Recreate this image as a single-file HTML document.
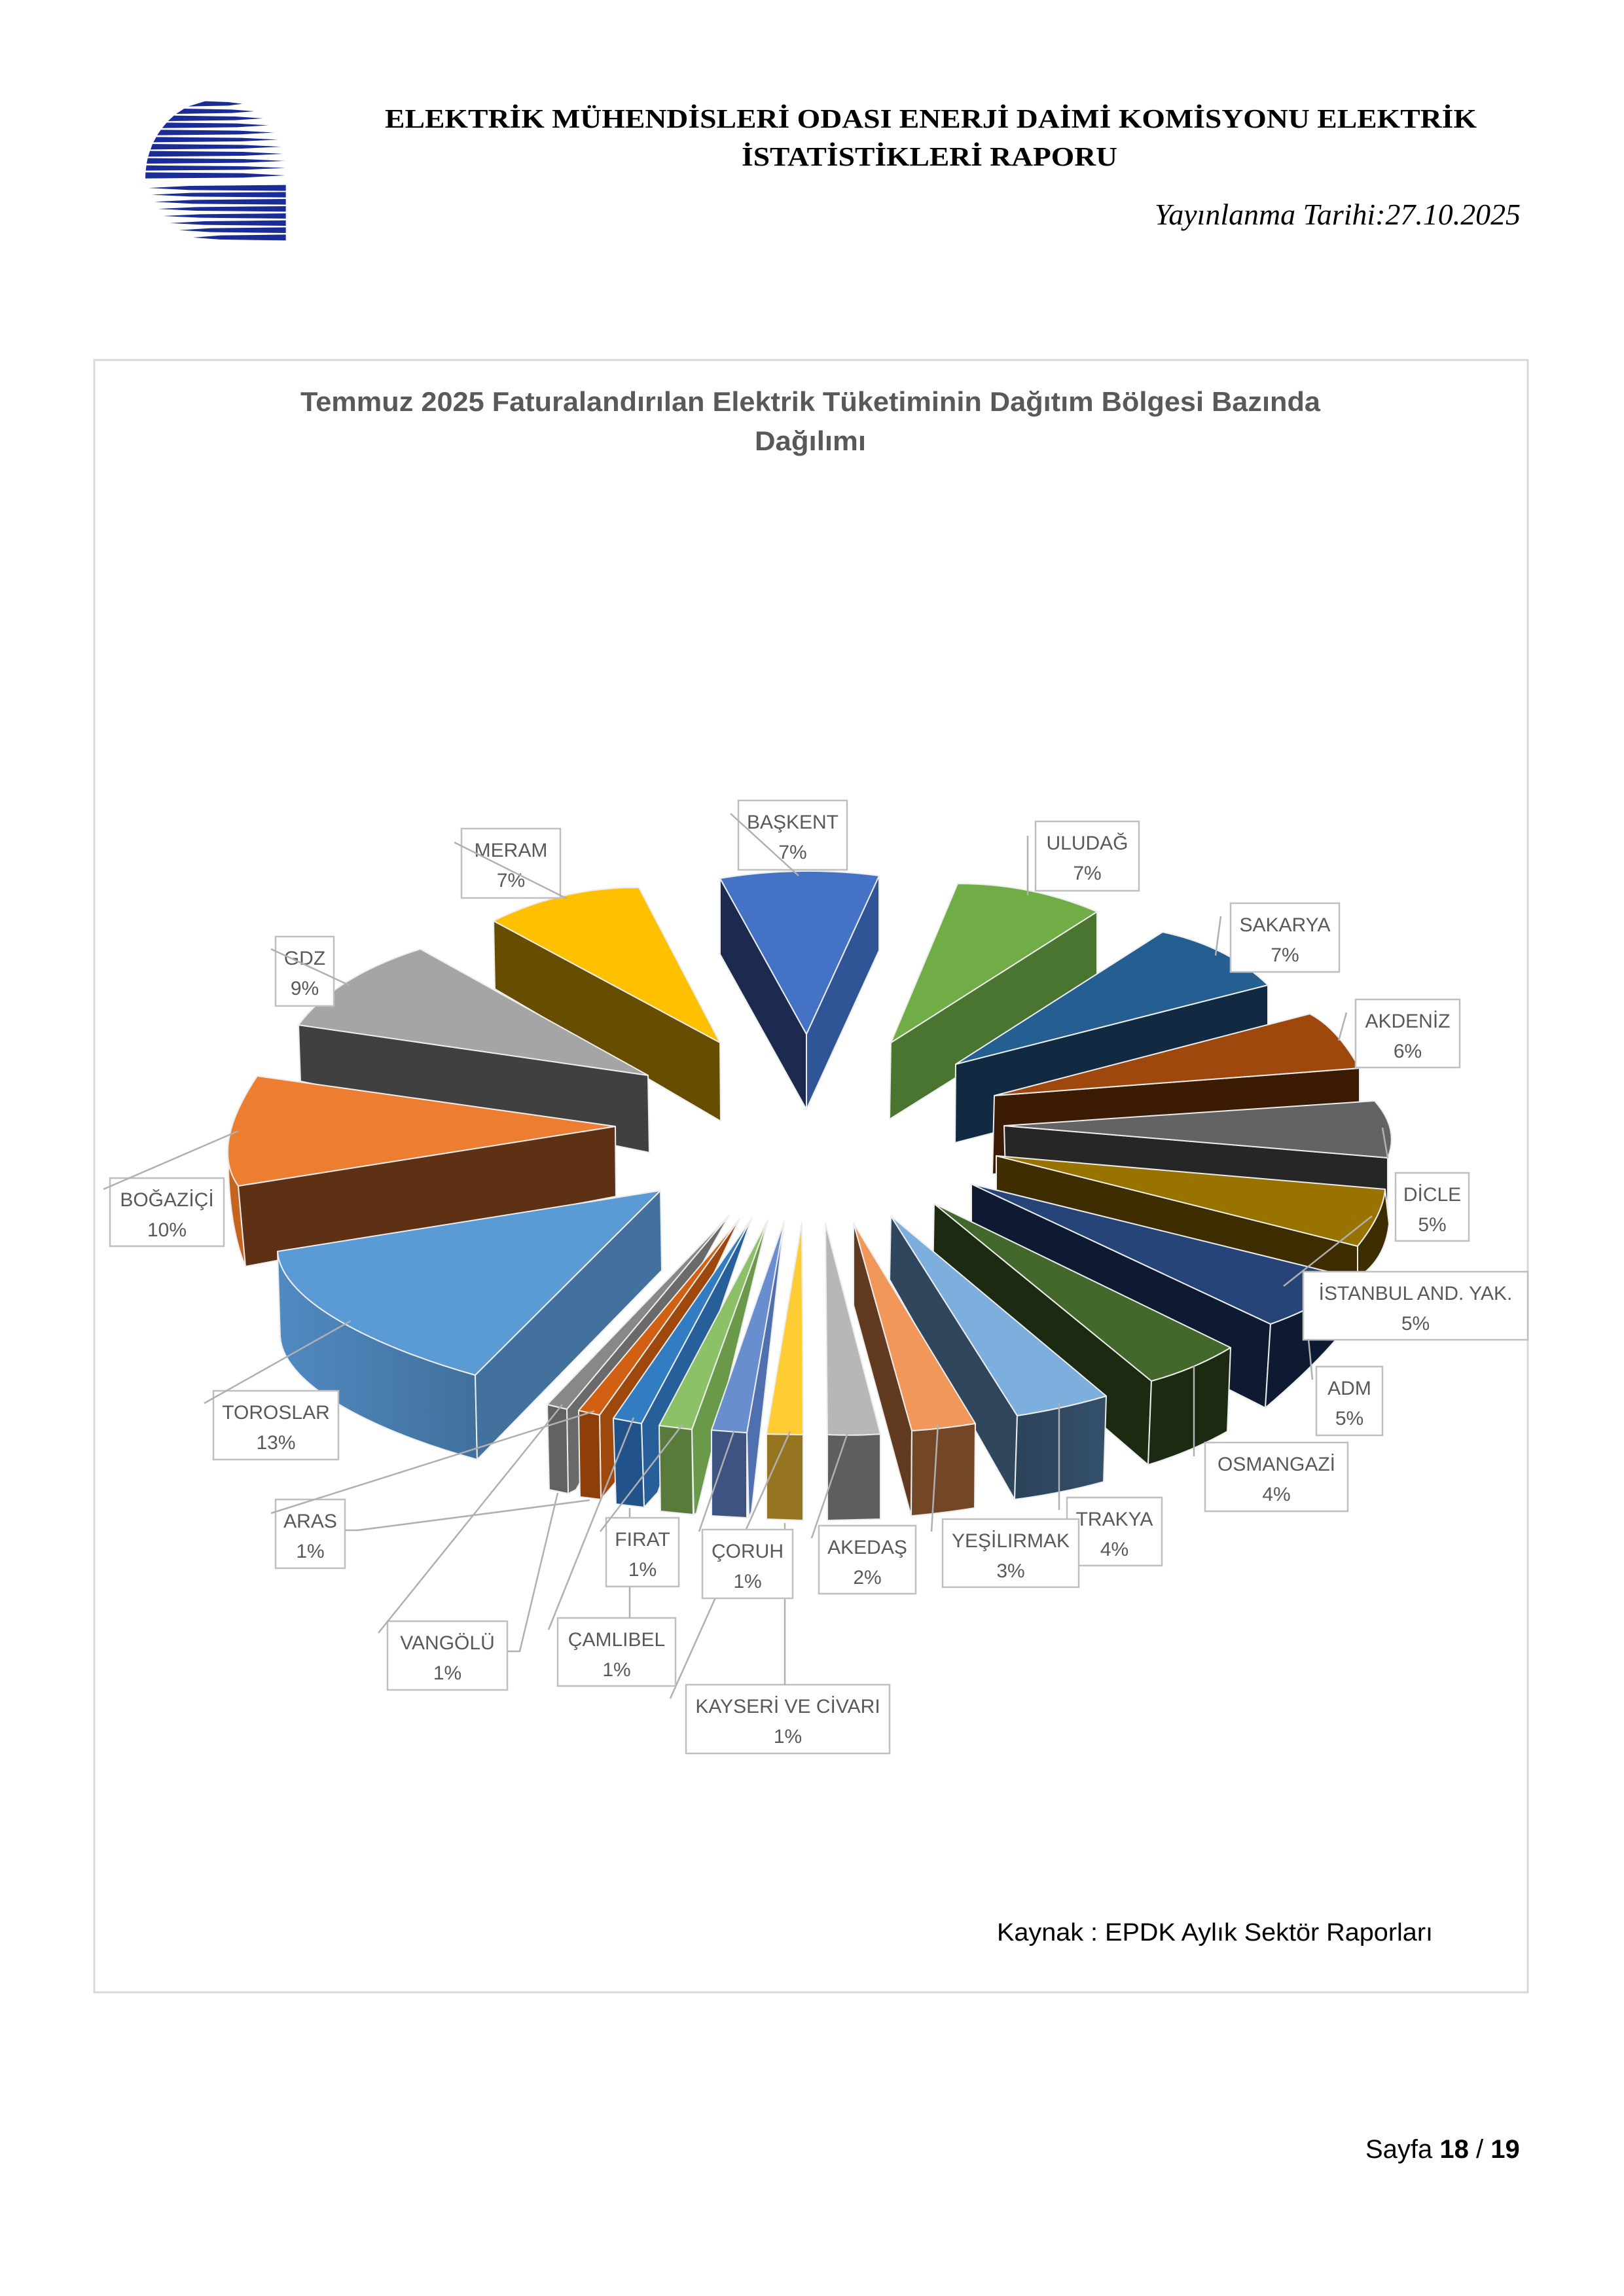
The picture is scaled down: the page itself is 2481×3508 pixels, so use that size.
<!DOCTYPE html>
<html><head><meta charset="utf-8"><title>Temmuz 2025 Dağıtım Bölgesi Bazında Dağılım</title>
<style>html,body{margin:0;padding:0;background:#fff}svg{display:block}</style></head>
<body>
<svg width="2481" height="3508" viewBox="0 0 2481 3508" xmlns="http://www.w3.org/2000/svg">
<defs>
<linearGradient id="torg" x1="0" y1="0" x2="1" y2="0">
<stop offset="0" stop-color="#508AC2"/><stop offset="1" stop-color="#41709C"/>
</linearGradient>
<linearGradient id="trg" x1="0" y1="0" x2="1" y2="0">
<stop offset="0" stop-color="#2C435A"/><stop offset="1" stop-color="#34506B"/>
</linearGradient>
</defs>
<rect width="2481" height="3508" fill="#fff"/>

<!-- Logo -->
<g transform="translate(170,130) scale(0.33333)" fill="#1B2C97">
<polygon points="430,74 537,78 600,86 537,94 353,98"/>
<polygon points="334,108 553,112 655,120 553,128 297,132"/>
<polygon points="287,140 568,144 695,152.5 568,161 260,165"/>
<polygon points="254,172 577,176 720,184.5 577,193 233,197"/>
<polygon points="227,205 587,209 745,217.5 587,226 210,230"/>
<polygon points="206,238 595,242 765,250 595,258 193,262"/>
<polygon points="189,270 600,274 778,282.5 600,291 180,295"/>
<polygon points="177,302 603,306 788,315 603,324 169,328"/>
<polygon points="167,335 606,339 795,347.5 606,356 162,360"/>
<polygon points="161,368 606,372 798,380 606,388 158,392"/>
<polygon points="157,400 604,404 796,414 604,424 156,428"/>
<polygon points="800,458 800,485 359,481 170,471.5 359,462"/>
<polygon points="800,490 800,515 367,511 182,502.5 367,494"/>
<polygon points="800,522 800,548 377,544 196,535 377,526"/>
<polygon points="800,555 800,580 390,576 214,567.5 390,559"/>
<polygon points="800,588 800,612 406,608 237,600 406,592"/>
<polygon points="800,620 800,645 428,641 268,632.5 428,624"/>
<polygon points="800,652 800,678 457,674 310,665 457,656"/>
<polygon points="800,685 800,712 502,708 375,698.5 502,689"/>
</g>

<!-- Header -->
<g font-family="'Liberation Serif', 'Noto Serif CJK SC', serif" fill="#000">
<text x="588" y="195" font-size="41" font-weight="bold" textLength="1668" lengthAdjust="spacingAndGlyphs">ELEKTRİK MÜHENDİSLERİ ODASI ENERJİ DAİMİ KOMİSYONU ELEKTRİK</text>
<text x="1133" y="253" font-size="41" font-weight="bold" textLength="574" lengthAdjust="spacingAndGlyphs">İSTATİSTİKLERİ RAPORU</text>
<text x="1764" y="343" font-size="46" font-style="italic" textLength="559" lengthAdjust="spacingAndGlyphs">Yayınlanma Tarihi:27.10.2025</text>
</g>

<!-- Chart frame -->
<rect x="144" y="550" width="2190" height="2494" fill="#fff" stroke="#D9D9D9" stroke-width="3"/>

<!-- Chart title -->
<g font-family="'Liberation Sans', sans-serif" font-weight="bold" font-size="42" fill="#595959">
<text x="459" y="628" textLength="1558" lengthAdjust="spacingAndGlyphs">Temmuz 2025 Faturalandırılan Elektrik Tüketiminin Dağıtım Bölgesi Bazında</text>
<text x="1153" y="688" textLength="170" lengthAdjust="spacingAndGlyphs">Dağılımı</text>
</g>

<!-- Slices -->
<g stroke="#EDEDED" stroke-width="2" stroke-linejoin="round">
<!-- BAŞKENT -->
<path d="M1100,1342 L1232,1580 L1232,1695 L1100,1458 Z" fill="#1B2A4E"/>
<path d="M1343,1338 L1343,1452 L1232,1695 L1232,1580 Z" fill="#2F5597"/>
<path d="M1100,1342 Q1221,1322 1343,1338 L1232,1580 Z" fill="#4472C4"/>
<!-- MERAM -->
<path d="M754,1407 L1100,1593 L1101,1713 L756,1511 Z" fill="#664D00"/>
<path d="M754,1407 Q859,1355 976,1356 L1100,1593 Z" fill="#FFC000"/>
<!-- ULUDAĞ -->
<path d="M1361,1593 L1676,1393 L1676,1511 L1359,1710 Z" fill="#4A7530"/>
<path d="M1361,1593 L1463,1350 Q1575,1350 1676,1393 Z" fill="#70AD47"/>
<!-- GDZ -->
<path d="M456,1566 L990,1643 L992,1761 L459,1652 Z" fill="#404040"/>
<path d="M456,1566 Q511,1492 642,1450 L990,1643 Z" fill="#A5A5A5"/>
<!-- SAKARYA -->
<path d="M1460,1626 L1937,1505 L1937,1623 L1459,1746 Z" fill="#112A42"/>
<path d="M1460,1626 L1776,1424 Q1875,1445 1937,1505 Z" fill="#255E91"/>
<!-- AKDENİZ -->
<path d="M1519,1674 L2077,1632 L2077,1750 L1516,1794 Z" fill="#3C1B05"/>
<path d="M1519,1674 L2001,1549 Q2043,1571 2077,1632 Z" fill="#9E480E"/>
<!-- BOĞAZİÇİ -->
<path d="M350,1745 L364,1812 L375,1935 Q352,1880 349,1790 Z" fill="#C5641F"/>
<path d="M364,1812 L940,1721 L941,1828 L375,1935 Z" fill="#5F3114"/>
<path d="M393,1644 Q321,1752 364,1812 L940,1721 Z" fill="#ED7D31"/>
<!-- DİCLE -->
<path d="M1534,1720 L2120,1769 L2120,1880 L1537,1830 Z" fill="#262626"/>
<path d="M1534,1720 L2100,1682 Q2138,1725 2120,1769 Z" fill="#636363"/>
<!-- İSTANBUL -->
<path d="M1522,1766 L2074,1904 L2074,2020 L1522,1870 Z" fill="#3D2D00"/>
<path d="M2116,1817 Q2113,1855 2074,1904 L2074,1952 Q2116,1925 2122,1870 Z" fill="#3D2D00"/>
<path d="M1522,1766 L2116,1817 Q2113,1855 2074,1904 Z" fill="#997300"/>
<!-- ADM -->
<path d="M1484,1809 L1941,2023 L1933,2151 L1484,1925 Z" fill="#0E1A31"/>
<path d="M1941,2023 Q2020,1995 2070,1953 L2075,2000 Q2040,2060 1933,2151 Z" fill="#0E1A31"/>
<path d="M1484,1809 L2070,1953 Q2020,1995 1941,2023 Z" fill="#264478"/>
<!-- TOROSLAR -->
<path d="M424,1912 C430,1990 580,2060 726,2101 L729,2230 C583,2190 433,2120 428,2042 Z" fill="url(#torg)"/>
<path d="M1009,1819 L726,2101 L729,2230 L1011,1941 Z" fill="#41719C"/>
<path d="M1009,1819 L424,1912 C430,1990 580,2060 726,2101 Z" fill="#5B9BD5"/>
<!-- OSMANGAZİ -->
<path d="M1427,1839 L1759,2110 L1754,2238 L1425,1955 Z" fill="#1B2A10"/>
<path d="M1759,2110 Q1825,2092 1880,2059 L1875,2187 Q1820,2218 1754,2238 Z" fill="#1B2A10"/>
<path d="M1427,1839 L1880,2059 Q1825,2092 1759,2110 Z" fill="#43682B"/>
<!-- TRAKYA -->
<path d="M1361,1858 L1554,2163 L1550,2291 L1359,1955 Z" fill="#2F465D"/>
<path d="M1554,2163 Q1625,2152 1690,2133 L1686,2264 Q1620,2282 1550,2291 Z" fill="url(#trg)"/>
<path d="M1361,1858 L1690,2133 Q1625,2152 1554,2163 Z" fill="#7CAFDD"/>
<!-- YEŞİLIRMAK -->
<path d="M1304,1869 L1393,2186 L1392,2316 L1304,1994 Z" fill="#613A1F"/>
<path d="M1393,2186 Q1440,2183 1490,2175 L1489,2304 Q1440,2312 1392,2316 Z" fill="#744628"/>
<path d="M1304,1869 L1490,2175 Q1440,2183 1393,2186 Z" fill="#F1975A"/>
<!-- AKEDAŞ -->
<path d="M1264,2192 L1345,2191 L1345,2321 L1264,2323 Z" fill="#5E5E5E"/>
<path d="M1261,1869 L1345,2191 Q1305,2194 1264,2192 Z" fill="#B7B7B7"/>
<!-- VANGÖLÜ -->
<path d="M1114,1857 L866,2153 L868,2282 L880,2276 Z" fill="#6A6A6A"/>
<path d="M836,2146 L866,2153 L868,2282 L839,2276 Z" fill="#626262"/>
<path d="M1114,1857 L866,2153 L836,2146 Z" fill="#888888"/>
<!-- ARAS -->
<path d="M1130,1862 L916,2162 L918,2291 L939,2266 Z" fill="#9E480E"/>
<path d="M884,2155 L916,2162 L918,2291 L886,2287 Z" fill="#8E3E08"/>
<path d="M1130,1862 L916,2162 L884,2155 Z" fill="#D26012"/>
<!-- ÇAMLIBEL -->
<path d="M1148,1862 L980,2175 L984,2303 L1005,2280 Z" fill="#265F99"/>
<path d="M937,2167 L980,2175 L984,2303 L941,2298 Z" fill="#21528A"/>
<path d="M1148,1862 L980,2175 L937,2167 Z" fill="#327DC2"/>
<!-- FIRAT -->
<path d="M1173,1864 L1057,2184 L1060,2314 L1064,2312 Z" fill="#6A9A49"/>
<path d="M1007,2178 L1057,2184 L1059,2314 L1009,2309 Z" fill="#587B3B"/>
<path d="M1173,1864 L1057,2184 L1007,2178 Z" fill="#8CC168"/>
<!-- ÇORUH -->
<path d="M1198,1866 L1141,2189 L1144,2318 L1148,2310 Z" fill="#4F6FAF"/>
<path d="M1087,2185 L1141,2189 L1141,2319 L1087,2316 Z" fill="#3E5382"/>
<path d="M1198,1866 L1141,2189 L1087,2185 Z" fill="#698ED0"/>
<!-- KAYSERİ -->
<path d="M1171,2191 L1227,2192 L1227,2323 L1171,2321 Z" fill="#967521"/>
<path d="M1225,1868 L1227,2192 L1171,2191 Z" fill="#FFCD33"/>
</g>

<!-- Labels -->
<g font-family="'Liberation Sans', sans-serif" font-size="30" text-anchor="middle">
<g><rect x="326" y="2125" width="191" height="105" fill="#fff" stroke="#BFBFBF" stroke-width="2.5"/><text x="421.5" y="2168" fill="#595959">TOROSLAR</text><text x="421.5" y="2214" fill="#595959">13%</text>
<polyline points="312,2144 536,2018" fill="none" stroke="#B0B0B0" stroke-width="2.5"/></g>

<g><rect x="168" y="1800" width="174" height="104" fill="#fff" stroke="#BFBFBF" stroke-width="2.5"/><text x="255" y="1843" fill="#595959">BOĞAZİÇİ</text><text x="255" y="1889" fill="#595959">10%</text>
<polyline points="158,1817 364,1728" fill="none" stroke="#B0B0B0" stroke-width="2.5"/></g>

<g><rect x="421" y="1431" width="89" height="106" fill="#fff" stroke="#BFBFBF" stroke-width="2.5"/><text x="465.5" y="1474" fill="#595959">GDZ</text><text x="465.5" y="1520" fill="#595959">9%</text>
<polyline points="414,1450 533,1505" fill="none" stroke="#B0B0B0" stroke-width="2.5"/></g>

<g><rect x="705" y="1266" width="151" height="106" fill="#fff" stroke="#BFBFBF" stroke-width="2.5"/><text x="780.5" y="1309" fill="#595959">MERAM</text><text x="780.5" y="1355" fill="#595959">7%</text>
<polyline points="694,1287 866,1373" fill="none" stroke="#B0B0B0" stroke-width="2.5"/></g>

<g><rect x="1128" y="1223" width="166" height="106" fill="#fff" stroke="#BFBFBF" stroke-width="2.5"/><text x="1211" y="1266" fill="#595959">BAŞKENT</text><text x="1211" y="1312" fill="#595959">7%</text>
<polyline points="1116,1243 1220,1338" fill="none" stroke="#B0B0B0" stroke-width="2.5"/></g>

<g><rect x="1582" y="1255" width="158" height="106" fill="#fff" stroke="#BFBFBF" stroke-width="2.5"/><text x="1661" y="1298" fill="#595959">ULUDAĞ</text><text x="1661" y="1344" fill="#595959">7%</text>
<polyline points="1570,1277 1570,1368" fill="none" stroke="#B0B0B0" stroke-width="2.5"/></g>

<g><rect x="1880" y="1380" width="166" height="105" fill="#fff" stroke="#BFBFBF" stroke-width="2.5"/><text x="1963" y="1423" fill="#595959">SAKARYA</text><text x="1963" y="1469" fill="#595959">7%</text>
<polyline points="1865,1400 1857,1460" fill="none" stroke="#B0B0B0" stroke-width="2.5"/></g>

<g><rect x="2071" y="1527" width="159" height="104" fill="#fff" stroke="#BFBFBF" stroke-width="2.5"/><text x="2150.5" y="1570" fill="#595959">AKDENİZ</text><text x="2150.5" y="1616" fill="#595959">6%</text>
<polyline points="2057,1547 2045,1590" fill="none" stroke="#B0B0B0" stroke-width="2.5"/></g>

<g><rect x="2132" y="1792" width="112" height="104" fill="#fff" stroke="#BFBFBF" stroke-width="2.5"/><text x="2188" y="1835" fill="#595959">DİCLE</text><text x="2188" y="1881" fill="#595959">5%</text>
<polyline points="2112,1723 2120,1769" fill="none" stroke="#B0B0B0" stroke-width="2.5"/></g>

<g><rect x="1991" y="1943" width="343" height="104" fill="#fff" stroke="#BFBFBF" stroke-width="2.5"/><text x="2162.5" y="1986" fill="#595959">İSTANBUL AND. YAK.</text><text x="2162.5" y="2032" fill="#595959">5%</text>
<polyline points="1961,1965 2096,1858" fill="none" stroke="#B0B0B0" stroke-width="2.5"/></g>

<g><rect x="2011" y="2088" width="101" height="105" fill="#fff" stroke="#BFBFBF" stroke-width="2.5"/><text x="2061.5" y="2131" fill="#595959">ADM</text><text x="2061.5" y="2177" fill="#595959">5%</text>
<polyline points="2005,2108 1999,2046" fill="none" stroke="#B0B0B0" stroke-width="2.5"/></g>

<g><rect x="1841" y="2204" width="218" height="105" fill="#fff" stroke="#BFBFBF" stroke-width="2.5"/><text x="1950" y="2247" fill="#595959">OSMANGAZİ</text><text x="1950" y="2293" fill="#595959">4%</text>
<polyline points="1824,2087 1824,2225" fill="none" stroke="#B0B0B0" stroke-width="2.5"/></g>

<g><rect x="1630" y="2288" width="145" height="104" fill="#fff" stroke="#BFBFBF" stroke-width="2.5"/><text x="1702.5" y="2331" fill="#595959">TRAKYA</text><text x="1702.5" y="2377" fill="#595959">4%</text>
<polyline points="1618,2144 1618,2307" fill="none" stroke="#B0B0B0" stroke-width="2.5"/></g>

<g><rect x="1440" y="2321" width="208" height="104" fill="#fff" stroke="#BFBFBF" stroke-width="2.5"/><text x="1544" y="2364" fill="#595959">YEŞİLIRMAK</text><text x="1544" y="2410" fill="#595959">3%</text>
<polyline points="1433,2176 1423,2340" fill="none" stroke="#B0B0B0" stroke-width="2.5"/></g>

<g><rect x="1251" y="2331" width="148" height="104" fill="#fff" stroke="#BFBFBF" stroke-width="2.5"/><text x="1325" y="2374" fill="#595959">AKEDAŞ</text><text x="1325" y="2420" fill="#595959">2%</text>
<polyline points="1295,2189 1240,2350" fill="none" stroke="#B0B0B0" stroke-width="2.5"/></g>

<g><rect x="1048" y="2574" width="311" height="105" fill="#fff" stroke="#BFBFBF" stroke-width="2.5"/><text x="1203.5" y="2617" fill="#595959">KAYSERİ VE CİVARI</text><text x="1203.5" y="2663" fill="#595959">1%</text>
<polyline points="1024,2595 1207,2187" fill="none" stroke="#B0B0B0" stroke-width="2.5"/>
<polyline points="1199,2574 1199,2327" fill="none" stroke="#B0B0B0" stroke-width="2.5"/></g>

<g><rect x="1073" y="2337" width="138" height="105" fill="#fff" stroke="#BFBFBF" stroke-width="2.5"/><text x="1142" y="2380" fill="#595959">ÇORUH</text><text x="1142" y="2426" fill="#595959">1%</text>
<polyline points="1068,2340 1121,2187" fill="none" stroke="#B0B0B0" stroke-width="2.5"/></g>

<g><rect x="852" y="2472" width="180" height="104" fill="#fff" stroke="#BFBFBF" stroke-width="2.5"/><text x="942" y="2515" fill="#595959">ÇAMLIBEL</text><text x="942" y="2561" fill="#595959">1%</text>
<polyline points="838,2490 968,2166" fill="none" stroke="#B0B0B0" stroke-width="2.5"/>
<polyline points="962,2472 962,2304" fill="none" stroke="#B0B0B0" stroke-width="2.5"/></g>

<g><rect x="926" y="2319" width="111" height="105" fill="#fff" stroke="#BFBFBF" stroke-width="2.5"/><text x="981.5" y="2362" fill="#595959">FIRAT</text><text x="981.5" y="2408" fill="#595959">1%</text>
<polyline points="917,2340 1043,2176" fill="none" stroke="#B0B0B0" stroke-width="2.5"/></g>

<g><rect x="592" y="2477" width="183" height="105" fill="#fff" stroke="#BFBFBF" stroke-width="2.5"/><text x="683.5" y="2520" fill="#595959">VANGÖLÜ</text><text x="683.5" y="2566" fill="#595959">1%</text>
<polyline points="578,2495 859,2146" fill="none" stroke="#B0B0B0" stroke-width="2.5"/>
<polyline points="775,2523 794,2523 852,2281" fill="none" stroke="#B0B0B0" stroke-width="2.5"/></g>

<g><rect x="421" y="2291" width="106" height="105" fill="#fff" stroke="#BFBFBF" stroke-width="2.5"/><text x="474" y="2334" fill="#595959">ARAS</text><text x="474" y="2380" fill="#595959">1%</text>
<polyline points="414,2312 908,2156" fill="none" stroke="#B0B0B0" stroke-width="2.5"/>
<polyline points="527,2338 547,2338 901,2292" fill="none" stroke="#B0B0B0" stroke-width="2.5"/></g>
</g>

<!-- Source -->
<text x="1523" y="2965" font-family="'Liberation Sans', sans-serif" font-size="38" fill="#000" textLength="666" lengthAdjust="spacingAndGlyphs">Kaynak : EPDK Aylık Sektör Raporları</text>

<!-- Page number -->
<text x="2086" y="3297" font-family="'Liberation Sans', sans-serif" font-size="40" fill="#000">Sayfa <tspan font-weight="bold">18</tspan> / <tspan font-weight="bold">19</tspan></text>
</svg>
</body></html>
